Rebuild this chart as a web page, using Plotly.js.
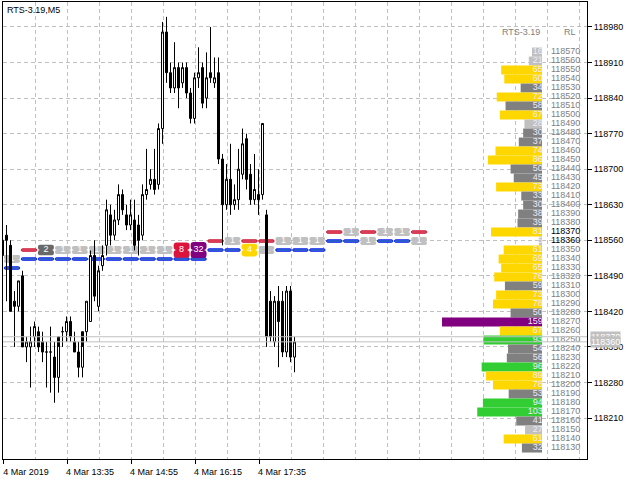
<!DOCTYPE html>
<html><head><meta charset="utf-8">
<script src="https://cdn.plot.ly/plotly-3.0.1.min.js"></script>
<style>html,body{margin:0;padding:0;background:#fff}#chart{width:640px;height:480px}</style>
</head><body><div id="chart"></div>
<script>
// ---------- data ----------
const symbol = 'RTS-3.19';
const timeframe = 'M5';
const day = '2019-03-04';
const times = ['12:15','12:20','12:25','12:30','12:35','12:40','12:45','12:50','12:55','13:00','13:05','13:10','13:15','13:20','13:25','13:30',
 '13:35','13:40','13:45','13:50','13:55','14:00','14:05','14:10','14:15','14:20','14:25','14:30','14:35','14:40','14:45','14:50',
 '14:55','15:00','15:05','15:10','15:15','15:20','15:25','15:30','15:35','15:40','15:45','15:50','15:55','16:00','16:05','16:10',
 '16:15','16:20','16:25','16:30','16:35','16:40','16:45','16:50','16:55','17:00','17:05','17:10','17:15','17:20','17:25','17:30',
 '17:35','17:40','17:45','17:50','17:55','18:00','18:05','18:10','18:15','18:20'];
const open  = [118530,118570,118550,118440,118430,118490,118350,118350,118370,118380,118360,118340,118340,118330,118290,118380,
 118380,118400,118360,118340,118310,118380,118400,118530,118430,118510,118550,118610,118570,118600,118650,118610,
 118590,118600,118590,118570,118650,118670,118680,118670,118780,118970,118890,118860,118900,118870,118900,118850,
 118800,118880,118900,118840,118890,118870,118890,118720,118630,118680,118630,118640,118690,118760,118690,118640,
 118650,118650,118610,118440,118360,118440,118440,118340,118460,118330];
const high  = [118580,118590,118560,118460,118480,118500,118370,118390,118400,118390,118380,118360,118390,118360,118350,118390,
 118410,118410,118380,118360,118350,118440,118540,118560,118510,118550,118640,118630,118620,118670,118660,118630,
 118640,118640,118610,118670,118740,118700,118740,118790,118990,119000,118910,118950,118910,118910,118910,118860,
 118890,118940,118910,118930,118980,118920,118920,118730,118710,118750,118670,118740,118780,118770,118710,118730,
 118700,118790,118620,118460,118450,118470,118460,118470,118470,118370];
const low   = [118520,118440,118420,118350,118420,118350,118320,118270,118350,118340,118320,118270,118260,118240,118260,118350,
 118360,118360,118340,118290,118290,118360,118400,118440,118420,118500,118530,118550,118560,118590,118610,118580,
 118580,118540,118530,118560,118640,118660,118650,118660,118750,118870,118850,118850,118820,118860,118840,118790,
 118790,118860,118820,118820,118870,118860,118710,118550,118620,118610,118620,118620,118680,118660,118630,118630,
 118610,118640,118350,118360,118350,118310,118330,118330,118320,118300];
const close = [118560,118560,118420,118430,118480,118350,118360,118360,118390,118350,118340,118340,118340,118290,118370,118380,
 118400,118370,118340,118310,118380,118440,118530,118450,118500,118530,118620,118570,118600,118650,118620,118590,
 118610,118550,118560,118650,118660,118680,118660,118780,118970,118890,118860,118900,118860,118900,118850,118800,
 118880,118890,118830,118880,118880,118880,118720,118630,118680,118630,118640,118700,118750,118680,118640,118660,
 118640,118790,118370,118370,118440,118400,118340,118460,118330,118360];

const xTickTimes  = ['12:15','13:35','14:55','16:15','17:35'];
const xTickLabels = ['4 Mar 2019','4 Mar 13:35','4 Mar 14:55','4 Mar 16:15','4 Mar 17:35'];
const yTickValues = [118210,118280,118350,118420,118490,118560,118630,118700,118770,118840,118910,118980];

const askPrice = 118370;
const bidPrice = 118360;

// depth of market
const domPrices  = [118570,118560,118550,118540,118530,118520,118510,118500,118490,118480,118470,118460,118450,118440,118430,
 118420,118410,118400,118390,118380,118370,118360,118350,118340,118330,118320,118310,118300,118290,118280,118270,118260,
 118250,118240,118230,118220,118210,118200,118190,118180,118170,118160,118150,118140,118130];
const domVolumes = [16,21,65,60,34,72,58,67,28,30,37,74,86,50,45,
 73,33,30,38,39,81,5,61,69,65,76,59,73,78,50,159,67,
 93,54,56,96,89,78,53,94,103,41,27,61,32];

// time & sales tape (one column per step)
const tapeAskPrices  = [118340,118350,118350,118350,118350,118350,118350,118350,118350,118350,118350,118350,
 118360,118360,118360,118360,118360,118360,118360,118370,118370,118370,118370,118370,118370];
const tapeAskVolumes = [1,0,2,1,1,1,1,1,1,1,8,32, 0,1,0,0,1,1,1, 0,1,0,1,1,0];
const tapeBidPrices  = [118330,118340,118340,118340,118340,118340,118340,118340,118340,118340,118340,118340,
 118350,118350,118350,118350,118350,118350,118350,118360,118360,118360,118360,118360,118360];
const tapeBidVolumes = [0,0,0,0,0,0,0,0,0,0,0,0, 0,0,4,1,0,0,0, 0,0,1,0,0,1];

// ---------- styles ----------
const FONT = '"Liberation Sans", Arial, sans-serif';
const FS = 9;
const GRID = '#c0c0c0';
const DASH = '4px,3px';
const xRange = ['2019-03-04 12:15:00', '2019-03-05 00:25:00'];
const candleXRange = ['2019-03-04 12:15:37.5', '2019-03-05 00:25:37.5']; // half-pixel shift for crisp bodies
const yRange = [118129.3, 119029.2];
const domXRange = [857, -71.5];
const domYRange = [118117.8, 118625.6];
const tapeXRange = [-0.531, 33.90];
const PXY2 = 0.9; // px per price unit on dom scale

function domColor(v){ return v>=150?'#800080': v>=90?'#32cd32': v>=60?'#ffd700': v>=30?'#808080':'#c0c0c0'; }
function tapeColor(v){ return v>=16?'#800080': v>=8?'#dc143c': v>=4?'#ffd700': v>=2?'#696969':'#c0c0c0'; }
function tapeBoxPx(v){ return Math.min(16, 8 + 2.4*Math.log2(v)); }

const xDates = times.map(t => day + ' ' + t);
const traces = [];

// DOM bars
traces.push({type:'bar', orientation:'h', xaxis:'x2', yaxis:'y2', x: domVolumes, y: domPrices, width: 10,
  marker:{color: domVolumes.map(domColor), line:{width:0}}, hoverinfo:'skip'});
traces.push({type:'scatter', mode:'text', xaxis:'x2', yaxis:'y2', x: domPrices.map(()=>-1), y: domPrices,
  text: domVolumes.map(String), textposition:'middle left', textfont:{family:FONT, size:FS, color:'#ecebfa'}, hoverinfo:'skip'});
traces.push({type:'scatter', mode:'text', xaxis:'x2', yaxis:'y2', x: domPrices.map(()=>-61), y: domPrices,
  text: domPrices.map(String), textposition:'middle left',
  textfont:{family:FONT, size:FS, color: domPrices.map(p => (p===askPrice||p===bidPrice)?'#000000':'#808080')}, hoverinfo:'skip'});

// tape
const cols = tapeAskPrices.map((_,i)=>i);
const dashAsk = cols.filter(i=>tapeAskVolumes[i]===0);
const dashBid = cols.filter(i=>tapeBidVolumes[i]===0);
const dashH = 2.4/PXY2;
traces.push({type:'bar', xaxis:'x3', yaxis:'y2', x: dashAsk, y: dashAsk.map(()=>dashH),
  base: dashAsk.map(i=>tapeAskPrices[i]-dashH/2), width: 0.9,
  marker:{color:'#e25068', line:{color:'#c8102e', width:1}, cornerradius:1}, hoverinfo:'skip'});
traces.push({type:'bar', xaxis:'x3', yaxis:'y2', x: dashBid, y: dashBid.map(()=>dashH),
  base: dashBid.map(i=>tapeBidPrices[i]-dashH/2), width: 0.9,
  marker:{color:'#3d7cc0', line:{color:'#0010f0', width:1}, cornerradius:1}, hoverinfo:'skip'});
const boxes = [];
cols.forEach(i=>{
  if (tapeAskVolumes[i]>0) boxes.push({x:i, p:tapeAskPrices[i], v:tapeAskVolumes[i]});
  if (tapeBidVolumes[i]>0) boxes.push({x:i, p:tapeBidPrices[i], v:tapeBidVolumes[i]});
});
[1,-1].forEach(sgn=>{
  traces.push({type:'bar', xaxis:'x3', yaxis:'y2', x: boxes.map(b=>b.x),
    y: boxes.map(b=>sgn*tapeBoxPx(b.v)/PXY2/2), base: boxes.map(b=>b.p), width: 0.94,
    marker:{color: boxes.map(b=>tapeColor(b.v)), line:{width:0}, cornerradius:3}, hoverinfo:'skip'});
});
traces.push({type:'scatter', mode:'text', xaxis:'x3', yaxis:'y2', x: boxes.map(b=>b.x), y: boxes.map(b=>b.p),
  text: boxes.map(b=>String(b.v)), textposition:'middle center',
  textfont:{family:FONT, size:FS, color:'#ffffff'}, hoverinfo:'skip'});

// candles on top
traces.push({type:'candlestick', xaxis:'x4', yaxis:'y3', x: xDates, open, high, low, close,
  whiskerwidth:0,
  increasing:{line:{color:'#000000', width:1}, fillcolor:'#ffffff'},
  decreasing:{line:{color:'#000000', width:1}, fillcolor:'#000000'},
  hoverinfo:'skip'});

const layout = {
  width:640, height:480, margin:{l:3, r:53, t:2, b:21},
  paper_bgcolor:'#ffffff', plot_bgcolor:'#ffffff', showlegend:false, barmode:'overlay',
  boxgap:0.5, boxgroupgap:0,
  font:{family:FONT, size:FS, color:'#000000'},
  xaxis:{type:'date', range:xRange, tickvals: xTickTimes.map(t=>day+' '+t), ticktext: xTickLabels,
    ticks:'outside', ticklen:4, tickcolor:'#000', ticklabelshift:23,
    showgrid:true, gridcolor:GRID, griddash:DASH, gridwidth:1,
    minor:{dtick:2400000, tick0: day+' '+xTickTimes[0], showgrid:true, gridcolor:GRID, griddash:DASH, ticks:''},
    showline:true, linecolor:'#000', linewidth:1, mirror:true, zeroline:false,
    tickfont:{family:FONT, size:FS, color:'#000'}, rangeslider:{visible:false}, fixedrange:true},
  yaxis:{range:yRange, side:'right', tickvals:yTickValues, ticktext:yTickValues.map(String),
    ticks:'outside', ticklen:4, tickcolor:'#000',
    showgrid:true, gridcolor:GRID, griddash:DASH, gridwidth:1,
    showline:true, linecolor:'#000', linewidth:1, mirror:true, zeroline:false,
    tickfont:{family:FONT, size:FS, color:'#000'}, fixedrange:true},
  xaxis2:{overlaying:'x', anchor:'y2', range:domXRange, visible:false, fixedrange:true},
  yaxis2:{overlaying:'y', anchor:'x2', range:domYRange, visible:false, fixedrange:true},
  xaxis3:{overlaying:'x', anchor:'y2', range:tapeXRange, visible:false, fixedrange:true},
  xaxis4:{overlaying:'x', anchor:'y3', type:'date', range:candleXRange, visible:false, rangeslider:{visible:false}, fixedrange:true},
  yaxis3:{overlaying:'y', anchor:'x4', range:yRange, visible:false, fixedrange:true},
  shapes:[askPrice, bidPrice].map(p=>({type:'line', xref:'paper', x0:0, x1:1, yref:'y', y0:p, y1:p,
    line:{color:'#c0c0c0', width:1}, layer:'above'})),
  annotations:[
    {text: symbol + ',' + timeframe, xref:'paper', x:0, xanchor:'left', xshift:2, yref:'paper', y:1, yanchor:'top', yshift:-1,
      showarrow:false, font:{family:FONT, size:FS, color:'#000'}},
    {text: symbol, xref:'x2', x:0, xanchor:'right', yref:'y2', y:118592, yanchor:'middle',
      showarrow:false, font:{family:FONT, size:FS, color:'#808080'}},
    {text: 'RL', xref:'x2', x:-57, xanchor:'right', yref:'y2', y:118592, yanchor:'middle',
      showarrow:false, font:{family:FONT, size:FS, color:'#808080'}},
    {text: String(askPrice), xref:'paper', x:1, xanchor:'left', xshift:3, yref:'y', y:askPrice, yanchor:'middle',
      showarrow:false, bgcolor:'#c0c0c0', borderpad:0, font:{family:FONT, size:FS, color:'#ffffff'}},
    {text: String(bidPrice), xref:'paper', x:1, xanchor:'left', xshift:3, yref:'y', y:bidPrice, yanchor:'middle',
      showarrow:false, bgcolor:'#c0c0c0', borderpad:0, font:{family:FONT, size:FS, color:'#ffffff'}}
  ]
};
Plotly.newPlot('chart', traces, layout, {staticPlot:true, displayModeBar:false});
</script></body></html>
